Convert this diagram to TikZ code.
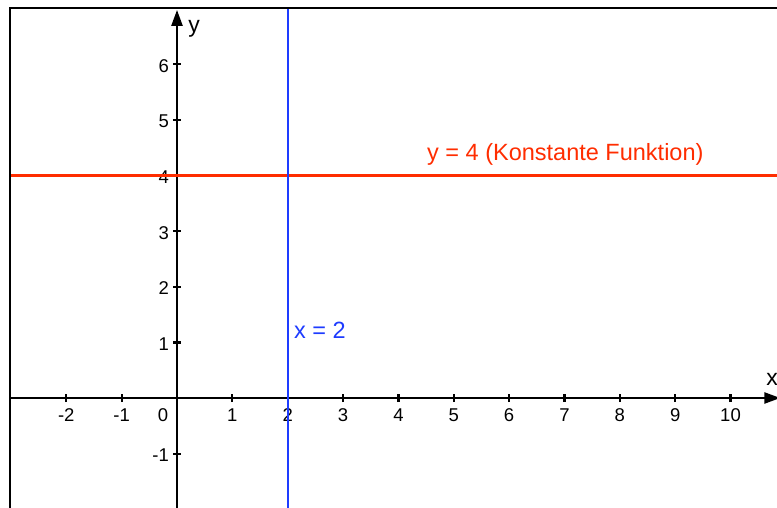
\documentclass[tikz,border=0pt]{standalone}
\usepackage{fontspec}
\setmainfont{Liberation Sans}
\usetikzlibrary{arrows.meta}
\definecolor{fred}{RGB}{255,45,0}
\definecolor{fblue}{RGB}{30,60,255}
\begin{document}
\begin{tikzpicture}[x=1pt,y=1pt,
  axisline/.style={line width=2.4pt,-{Triangle[length=16pt,width=11pt]}},
  tickmark/.style={line width=2.2pt},
  ticklabel/.style={inner sep=0pt,font=\fontsize{18.5}{20}\selectfont},
  eqlabel/.style={inner sep=0pt,font=\fontsize{23.5}{26}\selectfont},
  axlabel/.style={inner sep=0pt,font=\fontsize{23}{26}\selectfont}]
\useasboundingbox (0,0) rectangle (777,507);
\clip (0,0) rectangle (777,507);
\fill[white] (0,0) rectangle (777,507);
\begin{scope}[shift={(177,109)},x=55.35pt,y=55.6pt]
  \coordinate (O) at (0,0);
  \coordinate (xs) at (-3.02,0);
  \coordinate (xe) at (10.9,0);
  \coordinate (ys) at (0,-2.1);
  \coordinate (ye) at (0,6.98);
  % ticks and labels
  \foreach \k in {-2,-1,1,2,3,4,5,6,7,8,9,10} {
    \draw[tickmark] (\k,-4pt) -- (\k,4pt);
    \node[ticklabel] (xl\k) at ([yshift=-17pt]\k,0) {\k};
  }
  \foreach \k in {-1,1,2,3,4,5,6} {
    \draw[tickmark] (-4pt,\k) -- (4pt,\k);
    \node[ticklabel,anchor=east] (yl\k) at ([xshift=-8pt,yshift=-1.5pt]0,\k) {\k};
  }
  \node[ticklabel] (zero) at ([xshift=-14pt,yshift=-17pt]O) {0};
  % axes
  \draw[axisline] (xs) -- (xe);
  \draw[axisline] (ys) -- (ye);
  % red constant function
  \coordinate (rs) at (-3.02,4);
  \coordinate (re) at (10.9,4);
  \draw[fred,line width=3pt] (rs) -- (re);
\end{scope}
% blue vertical line x = 2
\coordinate (bs) at (287.7,-5);
\coordinate (be) at (287.7,499);
\draw[fblue,line width=1.6pt] (bs) -- (be);
% frame
\draw[line width=2.2pt] (10,-5) -- (10,499) -- (790,499);
\node[axlabel] (ylab) at (194,478) {y};
\node[axlabel] (xlab) at (772,128) {x};
\node[eqlabel,anchor=west,text=fblue] (xeq) at (294,177) {x = 2};
\node[eqlabel,anchor=west,text=fred] (yeq) at (427,353) {y = 4 (Konstante Funktion)};
\end{tikzpicture}
\end{document}
